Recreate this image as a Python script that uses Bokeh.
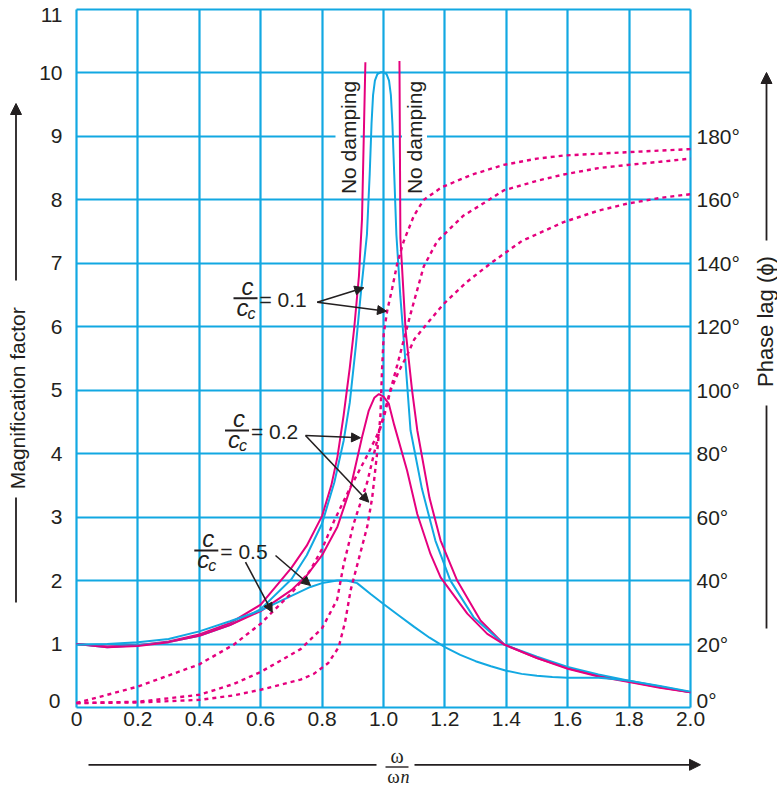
import math
from bokeh.plotting import figure
from bokeh.models import Range1d, LinearAxis, FixedTicker, Label, Arrow, NormalHead
from bokeh.embed import file_html
from bokeh.resources import INLINE

# ---------------- data ----------------
x_ticks = [0, 0.2, 0.4, 0.6, 0.8, 1.0, 1.2, 1.4, 1.6, 1.8, 2.0]
x_tick_labels = ["0", "0.2", "0.4", "0.6", "0.8", "1.0", "1.2", "1.4", "1.6", "1.8", "2.0"]
y_ticks = [0, 1, 2, 3, 4, 5, 6, 7, 8, 9, 10, 11]
y_tick_labels = ["0", "1", "2", "3", "4", "5", "6", "7", "8", "9", "10", "11"]
phase_ticks = [0, 20, 40, 60, 80, 100, 120, 140, 160, 180]
phase_tick_labels = ["0°", "20°", "40°", "60°", "80°", "100°", "120°", "140°", "160°", "180°"]

# magnification factor, no damping (two branches)
nd_left_x = [0, 0.1, 0.2, 0.3, 0.4, 0.5, 0.6, 0.7, 0.75, 0.8, 0.83, 0.85, 0.87, 0.89, 0.905, 0.92, 0.93, 0.941]
nd_left_y = [1.0, 0.96, 0.98, 1.04, 1.15, 1.33, 1.62, 2.2, 2.55, 3.02, 3.5, 3.95, 4.6, 5.35, 6.0, 6.8, 7.7, 10.17]
nd_right_x = [1.052, 1.055, 1.072, 1.093, 1.11, 1.15, 1.186, 1.24, 1.316, 1.394, 1.5, 1.6, 1.7, 1.8, 1.9, 2.0]
nd_right_y = [10.19, 7.4, 5.94, 5.0, 4.37, 3.3, 2.63, 2.0, 1.37, 0.99, 0.78, 0.62, 0.5, 0.41, 0.32, 0.24]

# c/cc = 0.1 (cyan, peak 10)
c01_x = [0, 0.1, 0.2, 0.3, 0.4, 0.5, 0.6, 0.7, 0.75, 0.8, 0.84, 0.87, 0.89, 0.91, 0.925, 0.946, 0.955,
         0.961, 0.966, 0.972, 0.98, 0.99, 1.0, 1.01, 1.018, 1.024, 1.029, 1.035, 1.042, 1.055, 1.072,
         1.088, 1.125, 1.169, 1.218, 1.294, 1.394, 1.5, 1.6, 1.7, 1.8, 1.9, 2.0]
c01_y = [1.0, 0.95, 0.98, 1.03, 1.13, 1.3, 1.55, 2.02, 2.4, 2.9, 3.55, 4.2, 4.8, 5.7, 6.47, 7.45, 8.4,
         9.2, 9.65, 9.88, 9.98, 10.01, 10.01, 9.98, 9.88, 9.65, 9.2, 8.4, 7.45, 6.47, 5.42,
         4.37, 3.45, 2.63, 2.0, 1.42, 0.99, 0.8, 0.64, 0.52, 0.42, 0.33, 0.24]

# c/cc = 0.2 (magenta, peak 5)
c02_x = [0, 0.1, 0.2, 0.3, 0.4, 0.5, 0.6, 0.7, 0.75, 0.8, 0.85, 0.893, 0.93, 0.952, 0.97, 0.985,
         1.0, 1.017, 1.035, 1.077, 1.11, 1.153, 1.186, 1.273, 1.338, 1.394, 1.5, 1.6, 1.7, 1.8, 1.9, 2.0]
c02_y = [1.0, 0.95, 0.97, 1.03, 1.13, 1.3, 1.52, 1.85, 2.08, 2.4, 2.85, 3.47, 4.26, 4.68, 4.88, 4.94,
         4.9, 4.79, 4.45, 3.73, 3.05, 2.42, 2.05, 1.48, 1.16, 0.99, 0.78, 0.61, 0.49, 0.40, 0.31, 0.24]

# c/cc = 0.5 (cyan, peak 2)
c05_x = [0, 0.1, 0.2, 0.3, 0.4, 0.5, 0.6, 0.7, 0.762, 0.8, 0.849, 0.88, 0.914, 0.958, 1.0, 1.05, 1.1,
         1.15, 1.2, 1.25, 1.3, 1.35, 1.4, 1.45, 1.5, 1.55, 1.6, 1.7, 1.75, 1.8, 1.9, 2.0]
c05_y = [0.99, 1.0, 1.03, 1.08, 1.2, 1.36, 1.53, 1.76, 1.9, 1.96, 2.0, 2.0, 1.96, 1.79, 1.63, 1.45, 1.27,
         1.1, 0.95, 0.83, 0.73, 0.65, 0.58, 0.53, 0.5, 0.48, 0.47, 0.47, 0.45, 0.42, 0.34, 0.25]

# phase lag (degrees), dotted curves
ph01_x = [0, 0.2, 0.4, 0.512, 0.6, 0.73, 0.773, 0.82, 0.854, 0.875, 0.893, 0.92, 0.947, 0.963, 0.979,
          0.99, 0.995, 1.001, 1.012, 1.028, 1.045, 1.066, 1.099, 1.131, 1.19, 1.29, 1.39, 1.5, 1.59, 1.79, 2.0]
ph01_deg = [1.4, 1.6, 2.4, 3.8, 5.6, 8.8, 10.6, 14, 19, 27, 37, 47, 57, 66, 80,
            92, 106, 118, 125, 132, 140, 147, 155, 160, 164, 168, 171, 173, 174, 175, 176]
ph02_x = [0, 0.2, 0.4, 0.512, 0.6, 0.73, 0.8, 0.849, 0.87, 0.903, 0.947, 0.979, 1.0, 1.045, 1.088,
          1.131, 1.175, 1.26, 1.327, 1.392, 1.5, 1.587, 1.7, 1.794, 1.9, 2.0]
ph02_deg = [1.4, 1.8, 4, 7.4, 11.2, 18.4, 25, 34, 45, 58, 71, 84, 92, 108, 124,
            139, 147, 155, 159, 163, 166, 168, 170, 171, 172, 173]
ph05_x = [0, 0.2, 0.4, 0.512, 0.6, 0.643, 0.7, 0.76, 0.8, 0.84, 0.89, 0.95, 0.98, 1.0, 1.023, 1.05,
          1.077, 1.1, 1.142, 1.194, 1.27, 1.349, 1.45, 1.587, 1.7, 1.794, 1.9, 2.0]
ph05_deg = [1.4, 6.6, 13.6, 19.8, 26.4, 30.6, 36, 43, 50, 59, 69, 80, 86, 91, 100, 106,
            111, 116, 121, 127, 134, 140, 147, 153, 156.6, 158.8, 160.6, 161.8]

# ---------------- layout / style ----------------
CYAN = "#12A8E2"
MAGENTA = "#E5007E"
INK = "#231F20"
FONT = "Liberation Sans"
TICK_SIZE = "21px"
W, H = 777, 790
LEFT_PX, RIGHT_PX, TOP_PX, BOTTOM_PX = 76.0, 690.0, 9.0, 707.0
PXX = (x_ticks[-1] - x_ticks[0]) / (RIGHT_PX - LEFT_PX)   # data per pixel, x
PXY = (y_ticks[-1] - y_ticks[0]) / (BOTTOM_PX - TOP_PX)   # data per pixel, y

x_range = Range1d(-LEFT_PX * PXX, (W - LEFT_PX) * PXX)
y_range = Range1d(-(H - BOTTOM_PX) * PXY, BOTTOM_PX * PXY)
ph_per_y = phase_ticks[1] / y_ticks[1]

p = figure(width=W, height=H, x_range=x_range, y_range=y_range,
           output_backend="svg", toolbar_location=None, min_border=0)
p.background_fill_color = "white"
p.border_fill_color = "white"
p.outline_line_color = None
p.extra_y_ranges = {"phase": Range1d(y_range.start * ph_per_y, y_range.end * ph_per_y)}

# grid (bounded to the chart box)
p.xgrid.ticker = FixedTicker(ticks=x_ticks)
p.ygrid.ticker = FixedTicker(ticks=y_ticks)
grid_ok = True
try:
    p.xgrid.bounds = (x_ticks[0] - 0.1, x_ticks[-1] + 0.1)
    p.ygrid.bounds = (y_ticks[0] - 0.5, y_ticks[-1] + 0.5)
    p.xgrid.cross_bounds = (y_ticks[0], y_ticks[-1])
    p.ygrid.cross_bounds = (x_ticks[0], x_ticks[-1])
except Exception:
    grid_ok = False
if grid_ok:
    for g in (p.xgrid, p.ygrid):
        g.grid_line_color = CYAN
        g.grid_line_width = 2.2
else:
    p.xgrid.visible = False
    p.ygrid.visible = False
    n, m = len(x_ticks), len(y_ticks)
    p.segment(x0=x_ticks, y0=[y_ticks[0]] * n, x1=x_ticks, y1=[y_ticks[-1]] * n,
              line_color=CYAN, line_width=2.2, level="underlay")
    p.segment(x0=[x_ticks[0]] * m, y0=y_ticks, x1=[x_ticks[-1]] * m, y1=y_ticks,
              line_color=CYAN, line_width=2.2, level="underlay")

def style_axis(ax, standoff):
    ax.axis_line_color = None
    ax.major_tick_line_color = None
    ax.minor_tick_line_color = None
    ax.major_tick_out = 0
    ax.major_tick_in = 0
    ax.major_label_text_font = FONT
    ax.major_label_text_font_size = TICK_SIZE
    ax.major_label_text_color = INK
    ax.major_label_standoff = standoff

# bottom axis at y = 0
p.xaxis.fixed_location = y_ticks[0]
p.xaxis.bounds = (x_ticks[0], x_ticks[-1])
p.xaxis.ticker = FixedTicker(ticks=x_ticks)
p.xaxis.major_label_overrides = dict(zip(x_ticks, x_tick_labels))
style_axis(p.xaxis[0], 4)

# left axis at x = 0 (end labels placed separately, as in the original)
p.yaxis.fixed_location = x_ticks[0]
p.yaxis.bounds = (y_ticks[0], y_ticks[-1])
p.yaxis.ticker = FixedTicker(ticks=y_ticks[1:-1])
p.yaxis.major_label_overrides = dict(zip(y_ticks[1:-1], y_tick_labels[1:-1]))
style_axis(p.yaxis[0], 14)

# right axis, phase lag, at x = 2
rax = LinearAxis(y_range_name="phase", fixed_location=x_ticks[-1],
                 bounds=(phase_ticks[0], y_ticks[-1] * ph_per_y),
                 ticker=FixedTicker(ticks=phase_ticks[1:]),
                 major_label_overrides=dict(zip(phase_ticks[1:], phase_tick_labels[1:])))
style_axis(rax, 6)
p.add_layout(rax, "right")

def text(x, y, txt, size="21px", style="normal", align="center", angle=0.0, xo=0, yo=0,
         bg=None, font=FONT, level="annotation", y_range_name="default"):
    lab = Label(x=x, y=y, x_offset=xo, y_offset=yo, text=txt, text_font=font, text_font_size=size,
                text_font_style=style, text_color=INK, text_align=align, text_baseline="middle",
                angle=angle, level=level, y_range_name=y_range_name)
    if bg:
        lab.background_fill_color = bg
        lab.padding = 1
    p.add_layout(lab)

# end tick labels, offset as in the original
text(x_ticks[0], y_ticks[-1], y_tick_labels[-1], size=TICK_SIZE, align="right", xo=-14, yo=-5)
text(x_ticks[0], y_ticks[0], y_tick_labels[0], size=TICK_SIZE, align="right", xo=-16, yo=7)
text(x_ticks[-1], phase_ticks[0], phase_tick_labels[0], size=TICK_SIZE, align="left", xo=6, yo=7,
     y_range_name="phase")

# ---------------- curves ----------------
p.line(nd_left_x, nd_left_y, line_color=MAGENTA, line_width=2)
p.line(nd_right_x, nd_right_y, line_color=MAGENTA, line_width=2)
p.line(c01_x, c01_y, line_color=CYAN, line_width=2)
p.line(c02_x, c02_y, line_color=MAGENTA, line_width=2)
p.line(c05_x, c05_y, line_color=CYAN, line_width=2)
for xs, ds in ((ph01_x, ph01_deg), (ph02_x, ph02_deg), (ph05_x, ph05_deg)):
    p.line(xs, ds, y_range_name="phase", line_color=MAGENTA, line_width=2.4, line_dash="4 4")

# ---------------- annotations ----------------
def line(x0, y0, x1, y1, head=None, width=1.6):
    end = NormalHead(size=head, fill_color=INK, line_color=INK, line_width=1) if head else None
    p.add_layout(Arrow(end=end, x_start=x0, y_start=y0, x_end=x1, y_end=y1,
                       line_color=INK, line_width=width))

def px_x(px):
    return (px - LEFT_PX) * PXX

def px_y(py):
    return (BOTTOM_PX - py) * PXY

# No damping labels
text(px_x(347.5), px_y(137), "No damping", angle=math.pi / 2, bg="white", level="underlay")
text(px_x(414), px_y(137), "No damping", angle=math.pi / 2, bg="white", level="underlay")

# c / cc fractions
def fraction(bpx, bpy, txt):
    bx, by = px_x(bpx), px_y(bpy)
    line(px_x(bpx - 12), by, px_x(bpx + 12), by, width=2)
    text(bx, by, "c", size="24px", style="italic", xo=2, yo=12)
    text(bx, by, "c", size="24px", style="italic", xo=-3, yo=-9)
    text(bx, by, "c", size="16px", style="italic", xo=6, yo=-15)
    text(bx, by, txt, align="left", xo=14, yo=-1)

fraction(245, 297.7, "= 0.1")
fraction(236.5, 430, "= 0.2")
fraction(205.8, 550, "= 0.5")

# pointer arrows
def pointer(sx, sy, ex, ey):
    line(px_x(sx), px_y(sy), px_x(ex), px_y(ey), head=9)

pointer(316.7, 301.7, 363.3, 287.3)
pointer(316.7, 301.7, 386.0, 310.7)
pointer(305.0, 435.0, 360.0, 437.3)
pointer(305.0, 435.0, 368.3, 501.7)
pointer(245.0, 561.7, 271.7, 611.7)
pointer(275.0, 555.0, 310.0, 585.0)

# left axis title
line(px_x(15.5), px_y(280), px_x(15.5), px_y(103), head=11, width=1.8)
text(px_x(17), px_y(389), "Magnification    factor", size="21px", angle=math.pi / 2)
line(px_x(15.5), px_y(602), px_x(15.5), px_y(497), width=1.8)

# right axis title
line(px_x(766), px_y(240), px_x(766), px_y(72), head=11, width=1.8)
text(px_x(765), px_y(318), "Phase lag  (ϕ)", size="22px", angle=math.pi / 2)
line(px_x(766), px_y(628), px_x(766), px_y(405), width=1.8)

# bottom title  omega / omega_n
line(px_x(88), px_y(764.3), px_x(376), px_y(764.3), width=1.8)
line(px_x(414), px_y(764.3), px_x(700), px_y(764.3), head=11, width=1.8)
line(px_x(385), px_y(766.5), px_x(408), px_y(766.5), width=1.4)
text(px_x(396.5), px_y(766.5), "ω", size="20px", font="Liberation Serif", yo=11.5)
text(px_x(393), px_y(766.5), "ω", size="19px", font="Liberation Serif", yo=-9.5)
text(px_x(404.5), px_y(766.5), "n", size="18px", style="italic", font="Liberation Serif", yo=-9.5)

open("out.html", "w").write(file_html(p, INLINE))
